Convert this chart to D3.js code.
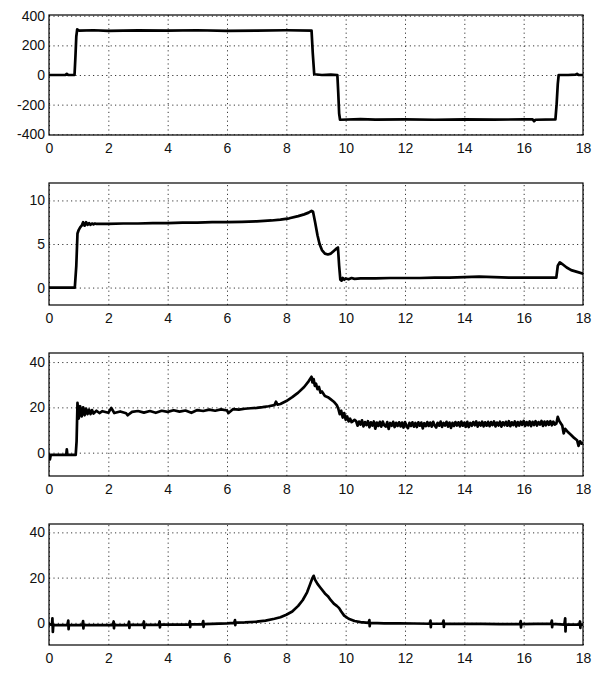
<!DOCTYPE html>
<html>
<head>
<meta charset="utf-8">
<script src="https://cdn.jsdelivr.net/npm/d3@7"></script>
<style>
  html, body { margin: 0; padding: 0; background: #fff; }
  svg { display: block; }
  .tick text { font-family: "Liberation Sans", Arial, sans-serif; font-size: 14px; fill: #111; }
</style>
</head>
<body>
<svg id="chart" width="614" height="677"></svg>
<script>
// ---------- data ----------
const xTicks = [0, 2, 4, 6, 8, 10, 12, 14, 16, 18];
const xTickLabels = ["0", "2", "4", "6", "8", "10", "12", "14", "16", "18"];

const yTicks1 = [-400, -200, 0, 200, 400];
const yTickLabels1 = ["-400", "-200", "0", "200", "400"];
const yTicks2 = [0, 5, 10];
const yTickLabels2 = ["0", "5", "10"];
const yTicks3 = [0, 20, 40];
const yTickLabels3 = ["0", "20", "40"];
const yTicks4 = [0, 20, 40];
const yTickLabels4 = ["0", "20", "40"];

// panel 1
const time1 = [
  0, 0.3, 0.55, 0.6, 0.65, 0.86, 0.89, 0.92, 0.95, 1.02,
  1.5, 2, 3, 4, 5, 6, 7, 8, 8.85, 8.89,
  8.94, 9.2, 9.5, 9.72, 9.75, 9.78, 9.81, 10.5, 11, 12,
  13, 14, 15, 16, 16.3, 16.35, 16.4, 17.07, 17.11, 17.15,
  17.18, 17.5, 17.75, 17.8, 17.85, 18
];
const values1 = [
  0, 0, 0, 8, 0, 0, 120, 260, 308, 300,
  302, 298, 301, 299, 302, 298, 300, 302, 300, 150,
  5, 0, 2, 0, -120, -260, -302, -298, -301, -300,
  -302, -299, -301, -300, -300, -312, -302, -300, -200, -60,
  0, 0, 2, 8, 0, 0
];

// panel 2
const time2 = [
  0, 0.5, 0.87, 0.92, 0.96, 1.0, 1.05, 1.1, 1.15, 1.2,
  1.25, 1.3, 1.35, 1.4, 1.45, 1.5, 1.55, 1.6, 1.7, 2,
  2.5, 3, 3.5, 4, 4.5, 5, 5.5, 6, 6.5, 7,
  7.5, 7.8, 8.1, 8.4, 8.6, 8.75, 8.85, 8.9, 8.97, 9.05,
  9.12, 9.2, 9.3, 9.4, 9.5, 9.6, 9.7, 9.74, 9.78, 9.82,
  9.86, 9.9, 9.95, 10.0, 10.1, 10.2, 10.3, 10.5, 11, 11.5,
  12, 12.5, 13, 13.5, 14, 14.5, 15, 15.5, 16, 16.5,
  17, 17.1, 17.15, 17.22, 17.3, 17.45, 17.6, 17.8, 18
];
const values2 = [
  0, 0, 0, 2.5, 6.2, 6.6, 6.9, 7.1, 7.5, 7.1,
  7.5, 7.2, 7.4, 7.2, 7.35, 7.25, 7.35, 7.3, 7.3, 7.3,
  7.35, 7.35, 7.4, 7.4, 7.45, 7.45, 7.5, 7.5, 7.55, 7.6,
  7.7, 7.8, 7.95, 8.2, 8.4, 8.6, 8.8, 8.7, 7.5, 6.0,
  5.0, 4.3, 3.9, 3.8, 3.9, 4.2, 4.5, 4.6, 2.5, 0.9,
  0.8, 1.1, 0.9, 1.05, 0.95, 1.1, 1.0, 1.05, 1.05, 1.1,
  1.1, 1.1, 1.15, 1.15, 1.2, 1.25, 1.2, 1.15, 1.15, 1.15,
  1.15, 1.15, 2.5, 2.9, 2.7, 2.3, 2.0, 1.8, 1.6
];

// panel 3
const time3 = [
  0, 0.03, 0.06, 0.3, 0.58, 0.6, 0.62, 0.9, 0.93, 0.96,
  1.0, 1.05, 1.1, 1.15, 1.2, 1.25, 1.3, 1.35, 1.4, 1.45,
  1.5, 1.6, 1.7,
  1.8, 2.0, 2.1, 2.2, 2.4, 2.6, 2.65, 2.8, 3.0, 3.2,
  3.4, 3.6, 3.8, 4.0, 4.2, 4.4, 4.6, 4.8, 5.0, 5.2,
  5.4, 5.6, 5.8, 6.0, 6.05, 6.2, 6.4, 6.6, 6.8, 7.0,
  7.2, 7.4, 7.6, 7.65, 7.7, 7.8, 8.0, 8.2, 8.4, 8.6,
  8.75, 8.8, 8.85, 8.88, 8.92, 8.96, 9.0, 9.05, 9.1, 9.15,
  9.2, 9.3, 9.4, 9.5, 9.6, 9.7, 9.75, 9.8, 9.85, 9.9,
  9.95, 10.0, 10.05, 10.1, 10.15, 10.2, 10.3,
  10.35, 10.4, 10.45, 10.5, 10.55, 10.6, 10.65, 10.7, 10.75, 10.8,
  10.85, 10.9, 10.95, 11.0, 11.05, 11.1, 11.15, 11.2, 11.25, 11.3,
  11.35, 11.4, 11.45, 11.5, 11.55, 11.6, 11.65, 11.7, 11.75, 11.8,
  11.85, 11.9, 11.95, 12.0, 12.05, 12.1, 12.15, 12.2, 12.25, 12.3,
  12.35, 12.4, 12.45, 12.5, 12.55, 12.6, 12.65, 12.7, 12.75, 12.8,
  12.85, 12.9, 12.95, 13.0, 13.05, 13.1, 13.15, 13.2, 13.25, 13.3,
  13.35, 13.4, 13.45, 13.5, 13.55, 13.6, 13.65, 13.7, 13.75, 13.8,
  13.85, 13.9, 13.95, 14.0, 14.05, 14.1, 14.15, 14.2, 14.25, 14.3,
  14.35, 14.4, 14.45, 14.5, 14.55, 14.6, 14.65, 14.7, 14.75, 14.8,
  14.85, 14.9, 14.95, 15.0, 15.05, 15.1, 15.15, 15.2, 15.25, 15.3,
  15.35, 15.4, 15.45, 15.5, 15.55, 15.6, 15.65, 15.7, 15.75, 15.8,
  15.85, 15.9, 15.95, 16.0, 16.05, 16.1, 16.15, 16.2, 16.25, 16.3,
  16.35, 16.4, 16.45, 16.5, 16.55, 16.6, 16.65, 16.7, 16.75, 16.8,
  16.85, 16.9, 16.95, 17.0, 17.05,
  17.1, 17.15, 17.2, 17.3, 17.35, 17.4, 17.5, 17.6, 17.7, 17.8,
  17.85, 17.9, 17.95, 18
];
const values3 = [
  -1, -3, -1, -1, -1, 1.5, -1, -1, 5, 22,
  15, 20.5, 16, 20, 16.5, 19.5, 17, 19, 17, 18.8,
  17.3, 18.5, 17.5,
  18.3, 17.6, 19.8, 17.5, 18.2, 17.4, 16.5, 18.0, 18.4, 17.7,
  18.4, 17.6, 18.5, 18.0, 18.7, 18.1, 18.6, 17.6, 18.8, 18.4,
  19.0, 18.5, 19.1, 18.6, 17.5, 19.2, 19.0, 19.4, 19.6, 19.8,
  20.1, 20.5, 21.0, 22.5, 21.2, 21.5, 22.8, 24.5, 26.5, 29.0,
  31.5, 32.5, 33.5, 31.0, 32.5, 29.5, 30.5, 28.0, 29.0, 26.5,
  27.0, 25.0, 24.5, 23.5, 22.5, 21.0, 19.5, 17.0, 18.5, 15.5,
  17.5, 14.5, 16.0, 13.8, 15.0, 13.5, 14.5,
  14.0, 11.9, 13.7, 12.4, 14.3, 11.6, 13.5, 12.2, 13.9, 11.2,
  13.4, 12.0, 13.8, 10.6, 13.3, 11.8, 13.6, 11.5, 13.7, 12.1,
  11.5, 13.5, 10.5, 13.1, 11.9, 13.6, 11.3, 13.2, 11.8, 13.4,
  11.6, 13.3, 11.1, 13.5, 11.9, 10.8, 13.2, 11.8, 13.4, 11.5,
  13.1, 11.3, 13.4, 11.9, 13.3, 10.7, 13.0, 11.7, 13.5, 11.8,
  13.3, 11.5, 13.6, 12.0, 11.1, 13.2, 11.9, 13.7, 11.4, 13.1,
  12.0, 13.6, 11.5, 13.3, 10.9, 13.2, 11.8, 13.5, 12.0, 13.4,
  11.6, 13.7, 11.9, 13.3, 11.4, 13.6, 11.3, 13.1, 11.9, 13.5,
  12.1, 13.8, 11.5, 13.3, 12.0, 13.7, 11.6, 13.4, 11.9, 13.6,
  11.7, 13.5, 12.2, 13.8, 11.6, 13.3, 12.0, 13.7, 11.5, 13.4,
  12.1, 13.6, 11.9, 13.9, 11.7, 13.4, 12.2, 13.8, 11.6, 13.5,
  12.0, 13.7, 12.3, 14.0, 11.8, 13.5, 12.1, 13.8, 11.7, 13.6,
  12.2, 13.9, 12.0, 13.5, 12.4, 14.0, 11.8, 13.7, 12.1, 13.8,
  12.3, 13.9, 12.1, 13.7, 12.4,
  12.8, 15.8, 14.0, 12.0, 8.5, 10.5, 9.0, 7.8, 6.5, 5.5,
  3.0, 5.0, 4.0, 4.2
];

// panel 4
const time4 = [
  0, 0.1, 0.115, 0.13, 0.145,
  0.62, 0.65, 0.66, 0.67,
  1.12, 1.15, 1.16, 1.17,
  2.15, 2.18, 2.19, 2.2,
  2.67, 2.7, 2.71, 2.72,
  3.17, 3.2, 3.21, 3.22,
  3.7, 3.73, 3.74, 3.75,
  4.72, 4.75, 4.76, 4.77,
  5.17, 5.2, 5.21, 5.22,
  6.0, 6.24, 6.27, 6.28, 6.29,
  6.6, 7.0, 7.3, 7.6, 7.8, 8.0, 8.2, 8.4, 8.55, 8.7,
  8.8, 8.87, 8.92, 8.97, 9.05, 9.15, 9.3, 9.4, 9.5, 9.6,
  9.7, 9.78, 9.85, 9.95, 10.1, 10.3, 10.5,
  10.77, 10.8, 10.81, 10.82, 11.3, 11.8, 12.3,
  12.83, 12.86, 12.87, 12.88,
  13.27, 13.3, 13.31, 13.32, 14.0, 14.6, 15.2,
  15.87, 15.9, 15.91, 15.92, 16.4,
  16.92, 16.95, 16.96, 16.97,
  17.37, 17.4, 17.41, 17.42, 17.6,
  17.87, 17.9, 17.91, 17.92, 18
];
const values4 = [
  -0.5, -1, 2, -4, -1,
  -1, 1, -2.8, -1,
  -1, 0.8, -2.5, -1,
  -1, 0.6, -2.4, -1,
  -0.9, 0.5, -2.2, -0.9,
  -0.9, 0.6, -2.2, -0.9,
  -0.8, 0.6, -2.0, -0.8,
  -0.7, 0.7, -1.9, -0.7,
  -0.6, 0.8, -1.8, -0.6,
  -0.2, 0, 1.2, -1.0, 0.1,
  0.2, 0.5, 1.0, 1.8, 2.5, 3.6, 5.0, 7.5, 10.0, 13.5,
  17.0, 19.5, 20.8, 19.0, 17.2, 15.5, 13.0, 11.8, 10.0, 8.5,
  7.5, 6.5, 5.0, 3.2, 1.8, 0.8, 0.3,
  0, 1.2, -1.5, 0, -0.2, -0.2, -0.3,
  -0.4, 1, -1.9, -0.4,
  -0.4, 1, -1.8, -0.4, -0.5, -0.5, -0.6,
  -0.6, 0.8, -2.0, -0.6, -0.5,
  -0.5, 1, -1.9, -0.5,
  -0.8, 2, -3.8, -0.8, -0.8,
  -0.8, 0.6, -2.2, -0.8, -0.8
];

// ---------- drawing ----------
const svg = d3.select("#chart");
const left = 49, right = 583;

const panels = [
  { top: 15,  bottom: 135, domain: [-405, 405], yTicks: yTicks1, yLabels: yTickLabels1, t: time1, v: values1 },
  { top: 183, bottom: 305, domain: [-2, 12],    yTicks: yTicks2, yLabels: yTickLabels2, t: time2, v: values2 },
  { top: 353, bottom: 476, domain: [-10.3, 44], yTicks: yTicks3, yLabels: yTickLabels3, t: time3, v: values3 },
  { top: 524, bottom: 645, domain: [-9.8, 43.7], yTicks: yTicks4, yLabels: yTickLabels4, t: time4, v: values4 }
];

const x = d3.scaleLinear().domain([0, 18]).range([0, right - left]);

panels.forEach(p => {
  const h = p.bottom - p.top;
  const w = right - left;
  const y = d3.scaleLinear().domain(p.domain).range([h, 0]);
  const g = svg.append("g").attr("transform", `translate(${left},${p.top})`);

  // grid
  const gx = g.append("g").attr("transform", `translate(0,${h})`)
    .call(d3.axisBottom(x).tickValues(xTicks).tickSize(-h).tickFormat(""));
  const gy = g.append("g")
    .call(d3.axisLeft(y).tickValues(p.yTicks).tickSize(-w).tickFormat(""));
  [gx, gy].forEach(a => {
    a.select(".domain").remove();
    a.selectAll("line").attr("stroke", "#222").attr("stroke-width", 0.9)
      .attr("stroke-dasharray", "1.2,3.2");
  });

  // labels
  const lx = g.append("g").attr("transform", `translate(0,${h})`)
    .call(d3.axisBottom(x).tickValues(xTicks).tickSize(0).tickPadding(8)
      .tickFormat((d, i) => xTickLabels[i]));
  const ly = g.append("g")
    .call(d3.axisLeft(y).tickValues(p.yTicks).tickSize(0).tickPadding(4)
      .tickFormat((d, i) => p.yLabels[i]));
  [lx, ly].forEach(a => a.select(".domain").remove());

  // clip
  const cid = "clip" + p.top;
  g.append("clipPath").attr("id", cid).append("rect")
    .attr("x", 0).attr("y", 0).attr("width", w).attr("height", h);

  // line
  const pts = p.t.map((t, i) => [t, p.v[i]]);
  g.append("path").datum(pts)
    .attr("clip-path", `url(#${cid})`)
    .attr("fill", "none").attr("stroke", "#000").attr("stroke-width", 2.7)
    .attr("stroke-linejoin", "round").attr("stroke-linecap", "round")
    .attr("d", d3.line().x(d => x(d[0])).y(d => y(d[1])));

  // frame
  g.append("rect").attr("x", 0).attr("y", 0).attr("width", w).attr("height", h)
    .attr("fill", "none").attr("stroke", "#000").attr("stroke-width", 1.2);
});
</script>
</body>
</html>
